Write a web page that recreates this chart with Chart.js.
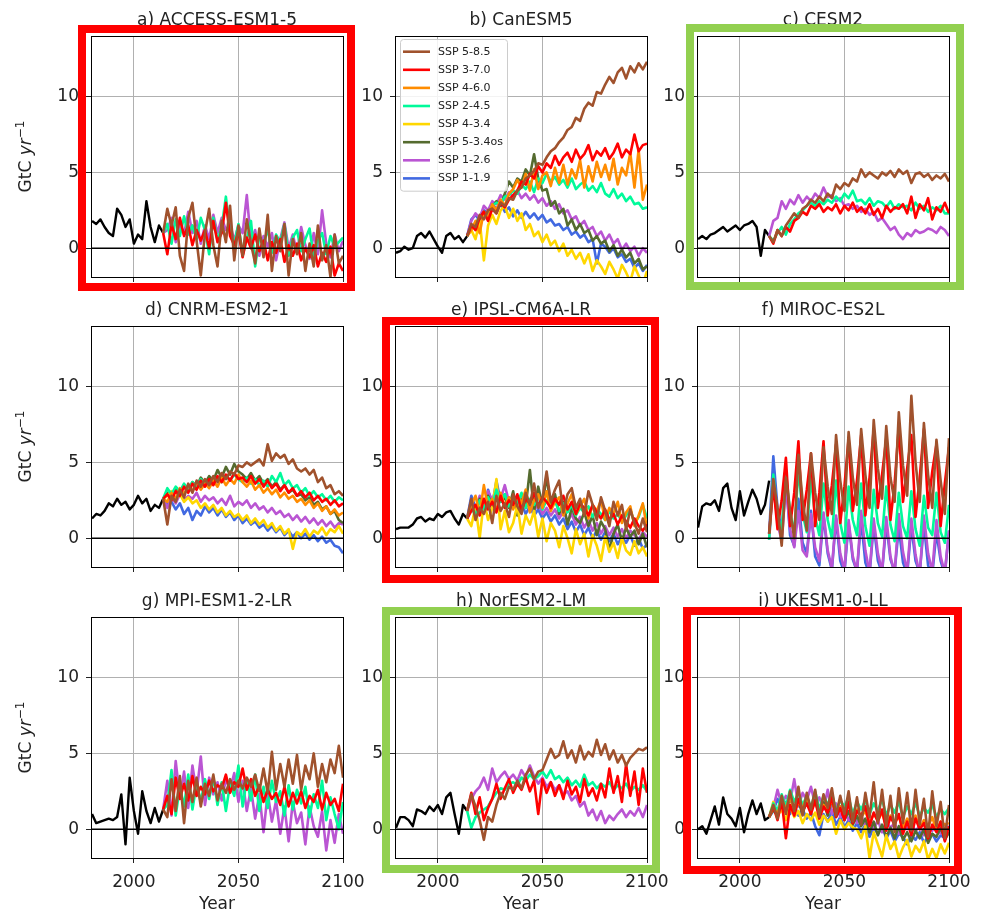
<!DOCTYPE html>
<html>
<head>
<meta charset="utf-8">
<script src="https://cdn.jsdelivr.net/npm/chart.js@4.4.1/dist/chart.umd.min.js"></script>
<style>
  body { margin: 0; background: #fff; overflow: hidden; }
  #fig { position: relative; width: 986px; height: 912px; }
  #fig canvas { position: absolute; }
  .frame { position: absolute; box-sizing: border-box; border: 8px solid; pointer-events: none; }
</style>
</head>
<body>
<div id="fig"></div>
<script>
// Annual net land carbon flux per model, sampled every other year
const histYears = [1980, 1982, 1984, 1986, 1988, 1990, 1992, 1994, 1996, 1998, 2000, 2002, 2004, 2006, 2008, 2010, 2012, 2014];
const sspYears = [
  2014, 2016, 2018, 2020, 2022, 2024, 2026, 2028, 2030, 2032, 2034,
  2036, 2038, 2040, 2042, 2044, 2046, 2048, 2050, 2052, 2054, 2056,
  2058, 2060, 2062, 2064, 2066, 2068, 2070, 2072, 2074, 2076, 2078,
  2080, 2082, 2084, 2086, 2088, 2090, 2092, 2094, 2096, 2098, 2100
];
const xTicks = [2000, 2050, 2100];
const yTicks = [0, 5, 10];
const xRange = [1979.5, 2100];
const yRange = [-1.9, 14];

const scenarioLabels = ['SSP 5-8.5', 'SSP 3-7.0', 'SSP 4-6.0', 'SSP 2-4.5', 'SSP 4-3.4', 'SSP 5-3.4os', 'SSP 1-2.6', 'SSP 1-1.9'];
const scenarioColors = ['#a0522d', '#ff0000', '#ff8c00', '#00fa9a', '#ffd700', '#556b2f', '#ba55d3', '#4169e1'];

const modelNames = [
  'a) ACCESS-ESM1-5', 'b) CanESM5', 'c) CESM2',
  'd) CNRM-ESM2-1', 'e) IPSL-CM6A-LR', 'f) MIROC-ES2L',
  'g) MPI-ESM1-2-LR', 'h) NorESM2-LM', 'i) UKESM1-0-LL'
];

// a) ACCESS-ESM1-5
const accessHist = [1.8, 1.6, 1.9, 1.4, 1.0, 0.8, 2.6, 2.2, 1.4, 1.9, 0.3, 0.9, 0.6, 3.1, 1.4, 0.4, 1.5, 1.0];
const access585 = [1.0, 2.6, 1.5, 2.7, -0.5, -1.5, 2.0, 3.0, 0.5, -1.8, 1.0, 2.6, 0.2, -1.2, 1.8, 0.4, 2.8, -0.8, 1.5, -0.5, 1.9, 0.3, -1.0, 1.3, -0.6, 2.2, -1.5, 0.8, -0.2, 1.6, -1.8, 0.6, -0.4, 1.0, -1.5, 0.3, -1.2, 1.5, -0.8, 0.2, -1.9, 0.9, -1.0, -0.5];
const access370 = [1.0, -0.4, 1.6, 0.6, 2.0, 0.8, 1.5, 0.2, 1.2, 0.5, 1.2, 0.0, 1.8, 0.4, 1.0, 3.0, 0.8, 0.2, 1.1, -0.6, 0.7, 0.0, 0.9, -0.2, 0.5, -0.8, 0.4, -0.3, 0.6, -0.9, 0.2, -0.5, 0.3, -0.8, 0.0, -0.6, 0.2, -1.2, -0.3, -0.9, 0.1, -1.8, -1.0, -1.5];
const access245 = [1.0, 1.6, 0.3, 1.9, 0.8, 2.1, 0.9, 1.5, 0.6, 2.0, 1.2, -0.4, 2.0, 0.5, 1.4, 3.4, 1.0, 0.3, 1.6, -0.5, 0.6, 1.8, -1.2, 0.8, 0.2, 1.3, -0.3, 0.9, 0.4, 1.6, -0.5, 0.7, 1.2, -0.2, 0.6, 1.3, -0.6, 0.5, 1.0, -0.4, 0.8, 0.1, 0.4, 0.7];
const access126 = [1.0, 1.2, 2.0, 0.4, 1.6, 0.9, 2.4, 1.0, 1.8, 0.3, 1.5, 0.6, 2.2, 1.0, 2.0, 1.2, 1.6, 0.5, 1.5, 1.0, 3.5, 0.4, 1.2, -0.5, 0.8, 0.1, 1.0, -0.8, 0.6, 1.7, 0.0, 0.9, -0.3, 1.4, 0.2, -0.7, 1.0, -0.4, 2.5, 0.3, -0.6, 0.9, -0.2, 0.5];

// b) CanESM5
const canHist = [-0.3, -0.2, 0.1, -0.1, 0.0, 0.8, 1.0, 0.7, 1.1, 0.6, 0.1, -0.3, 0.8, 1.0, 0.6, 0.8, 0.4, 0.8];
const can585 = [0.8, 1.6, 1.4, 2.2, 1.9, 2.5, 2.6, 2.3, 3.0, 2.8, 3.3, 3.2, 3.8, 4.0, 4.6, 4.8, 5.1, 5.6, 5.5, 6.0, 6.4, 6.6, 7.0, 7.3, 7.8, 8.0, 8.6, 8.4, 9.2, 9.6, 9.4, 10.3, 10.2, 10.8, 11.3, 10.9, 11.6, 11.9, 11.2, 12.0, 11.6, 12.2, 11.8, 12.3];
const can370 = [0.8, 1.5, 1.2, 2.0, 2.4, 1.8, 2.6, 2.3, 3.0, 2.7, 3.2, 3.5, 3.8, 4.4, 4.2, 4.9, 4.6, 5.4, 5.0, 5.6, 5.3, 6.1, 5.5, 6.0, 6.3, 5.7, 6.5, 5.9, 6.2, 6.8, 5.8, 6.4, 6.1, 6.6, 5.9, 6.3, 6.9, 6.0, 6.5, 6.2, 7.5, 6.4, 6.8, 6.9];
const can460 = [0.8, 1.2, 1.8, 1.0, 2.4, 2.0, 2.9, 2.5, 3.2, 2.8, 3.6, 3.9, 4.5, 4.0, 4.9, 3.8, 5.2, 3.9, 4.8, 5.0, 4.1, 5.3, 4.3, 5.5, 4.2, 5.2, 4.6, 5.8, 4.0, 5.4, 4.4, 5.7, 4.7, 5.5, 4.5, 5.9, 4.2, 5.3, 4.8, 6.3, 4.0, 6.5, 3.2, 4.2];
const can245 = [0.8, 1.3, 1.7, 2.0, 2.3, 2.2, 2.8, 3.0, 2.9, 3.4, 3.5, 3.8, 3.6, 4.2, 3.9, 4.4, 3.7, 4.6, 4.3, 4.9, 4.4, 4.7, 4.2, 4.5, 4.0, 4.6, 3.9, 4.2, 4.4, 3.8, 4.1, 3.7, 4.3, 3.6, 3.4, 3.9, 3.3, 3.6, 3.1, 3.4, 2.9, 3.0, 2.6, 2.7];
const can434 = [0.8, 1.2, 0.6, 1.8, -0.8, 1.5, 2.2, 1.6, 2.5, 2.8, 2.0, 2.6, 1.8, 2.3, 1.2, 1.6, 0.8, 1.1, 0.4, 0.9, 0.2, 0.5, -0.2, 0.3, -0.5, -0.1, -0.7, -0.3, -1.0, -0.4, -1.5, -0.8, -1.2, -1.7, -0.9, -1.4, -2.0, -1.1, -1.6, -2.2, -1.2, -1.8, -2.4, -1.5];
const can534 = [0.8, 1.4, 1.6, 2.0, 2.4, 2.1, 2.7, 3.1, 2.8, 3.6, 4.4, 4.0, 4.6, 4.4, 5.2, 4.8, 6.2, 4.6, 3.8, 3.9, 2.8, 3.1, 2.3, 2.6, 1.5, 1.9, 1.2, 1.6, 1.0, 1.2, 0.5, 0.8, 0.3, 0.5, -0.2, 0.2, -0.5, -0.1, -0.6, -0.3, -1.0, -0.7, -1.4, -1.2];
const can126 = [0.8, 1.8, 2.3, 2.0, 2.8, 2.5, 3.1, 2.9, 3.5, 3.2, 3.7, 3.4, 3.8, 3.3, 3.6, 3.2, 3.5, 3.0, 3.3, 2.8, 3.1, 2.6, 2.9, 2.3, 2.5, 1.9, 2.1, 1.5, 1.8, 1.2, 1.4, 0.8, 1.1, 0.5, 0.9, 0.3, 0.6, -0.1, 0.3, -0.2, 0.1, -0.5, 0.0, -0.3];
const can119 = [0.8, 1.9, 2.2, 1.8, 2.5, 2.3, 2.9, 2.6, 3.0, 2.4, 2.7, 2.1, 2.5, 2.0, 2.4, 2.0, 2.3, 1.9, 2.2, 1.7, 1.9, 1.5, 1.6, 1.2, 1.4, 0.9, 1.1, 0.7, 0.9, 0.4, 0.6, -1.0, 0.3, 0.1, -0.3, 0.0, -0.6, -0.4, -0.9, -0.7, -1.3, -1.0, -1.5, -1.1];

// c) CESM2
const cesmHist = [0.6, 0.8, 0.6, 0.9, 1.0, 1.2, 1.4, 1.1, 1.3, 1.5, 1.2, 1.5, 1.6, 1.8, 1.4, -0.5, 1.2, 0.8];
const cesm585 = [0.8, 0.4, 1.2, 0.8, 1.5, 1.9, 2.3, 2.0, 2.6, 2.8, 3.2, 3.0, 3.4, 3.1, 3.6, 3.3, 4.2, 3.9, 4.3, 4.1, 4.6, 4.4, 5.2, 4.7, 5.0, 4.8, 4.6, 5.0, 4.8, 5.1, 4.7, 5.2, 4.9, 5.1, 4.3, 4.9, 5.0, 4.7, 4.9, 4.5, 4.8, 4.6, 4.9, 4.4];
const cesm370 = [0.8, 0.3, 1.2, 0.8, 1.4, 1.1, 1.8, 2.0, 2.4, 2.2, 2.8, 2.6, 2.9, 2.4, 2.7, 2.5, 2.9, 2.3, 2.8, 2.5, 3.0, 2.4, 2.7, 2.3, 2.9, 2.2, 2.6, 2.0, 2.8, 2.4, 2.7, 2.6, 2.9, 2.3, 3.4, 2.0, 2.9, 2.5, 3.3, 1.9, 2.7, 2.4, 3.0, 2.3];
const cesm245 = [0.8, 0.5, 1.0, 1.4, 0.9, 1.6, 1.9, 2.3, 2.5, 2.8, 3.0, 2.8, 3.1, 2.9, 3.2, 3.0, 3.4, 3.1, 3.6, 3.3, 3.8, 3.1, 3.2, 2.9, 3.3, 2.8, 3.1, 3.0, 2.7, 3.1, 2.6, 2.9, 2.7, 2.8, 2.5, 3.0, 2.6, 2.8, 2.4, 2.7, 2.5, 2.8, 2.3, 2.3];
const cesm126 = [0.8, 1.8, 2.0, 3.1, 2.6, 3.2, 2.9, 3.5, 3.0, 3.4, 3.1, 3.6, 3.3, 4.0, 3.4, 3.5, 3.1, 3.3, 2.8, 2.9, 2.6, 2.8, 2.4, 2.6, 2.2, 2.4, 1.8, 2.0, 1.6, 1.2, 1.4, 0.9, 0.6, 1.0, 0.8, 1.2, 1.0, 1.1, 1.3, 1.2, 1.0, 1.4, 1.2, 0.8];

// d) CNRM-ESM2-1
const cnrmHist = [1.3, 1.6, 1.5, 1.8, 2.3, 2.1, 2.6, 2.2, 2.4, 1.9, 2.2, 2.8, 2.3, 2.6, 1.8, 2.2, 2.0, 2.6];
const cnrm585 = [2.6, 0.9, 2.8, 2.4, 3.2, 2.7, 3.6, 3.0, 3.8, 3.4, 3.9, 3.5, 4.1, 3.7, 4.3, 3.9, 4.4, 4.2, 4.8, 4.7, 5.0, 4.8, 5.0, 5.2, 4.8, 6.2, 5.1, 5.6, 5.3, 5.5, 4.9, 5.2, 4.6, 4.4, 4.6, 4.2, 4.5, 3.7, 4.0, 3.3, 3.5, 2.9, 3.1, 2.8];
const cnrm370 = [2.6, 2.9, 2.5, 3.1, 2.8, 3.4, 3.0, 3.6, 3.2, 3.8, 3.4, 3.9, 3.5, 4.1, 3.7, 4.2, 3.8, 4.3, 3.9, 4.0, 3.7, 4.1, 3.6, 3.9, 3.4, 3.8, 3.3, 3.6, 3.1, 3.5, 3.0, 3.3, 2.8, 3.1, 2.7, 3.0, 2.5, 2.8, 2.4, 2.6, 2.2, 2.5, 2.1, 2.3];
const cnrm460 = [2.6, 2.4, 3.0, 2.6, 3.3, 2.9, 3.5, 3.1, 3.7, 3.2, 3.6, 3.3, 3.8, 3.4, 4.0, 3.5, 3.9, 3.6, 4.2, 3.7, 3.4, 3.8, 3.2, 3.5, 3.0, 3.3, 2.9, 3.2, 2.7, 3.0, 2.6, 2.8, 2.4, 2.6, 2.2, 2.5, 2.0, 2.3, 1.8, 2.1, 1.6, 1.9, 1.5, 1.7];
const cnrm245 = [2.6, 3.3, 2.9, 3.4, 3.1, 3.6, 3.2, 3.7, 3.4, 3.9, 3.5, 3.8, 3.6, 4.0, 3.7, 4.1, 3.8, 4.2, 3.9, 3.7, 4.0, 3.6, 3.9, 3.5, 3.8, 3.4, 4.1, 3.7, 4.3, 3.5, 3.8, 3.3, 3.5, 3.0, 3.3, 2.8, 3.1, 2.7, 2.9, 2.5, 2.8, 2.4, 2.7, 2.5];
const cnrm434 = [2.6, 2.8, 3.1, 2.6, 2.9, 2.4, 2.7, 2.3, 2.5, 2.0, 2.3, 1.9, 2.2, 1.7, 2.0, 1.5, 1.8, 1.4, 1.6, 1.2, 1.5, 1.0, 1.3, 0.9, 1.2, 0.7, 1.0, 0.5, 0.8, 0.3, 0.6, -0.7, 0.4, 0.2, 0.6, 0.1, 0.5, 0.3, 0.7, 0.2, 0.6, 0.4, 0.8, 0.3];
const cnrm534 = [2.6, 3.0, 2.7, 3.3, 3.0, 3.5, 3.2, 3.7, 3.4, 4.0, 3.6, 4.1, 3.8, 4.5, 4.0, 4.7, 4.2, 4.9, 4.4, 4.2, 3.9, 4.3, 3.8, 4.1, 3.6, 3.9, 3.4, 3.7, 3.2, 3.5, 3.0, 3.2, 2.8, 2.9, 2.5, 2.7, 2.2, 2.4, 1.9, 2.1, 1.6, 1.8, 1.2, 1.0];
const cnrm126 = [2.6, 2.0, 2.7, 2.3, 2.9, 2.5, 2.8, 2.6, 3.0, 2.4, 2.8, 2.5, 2.7, 2.3, 2.6, 2.2, 2.8, 2.1, 2.4, 2.2, 2.5, 2.0, 2.3, 1.9, 2.1, 1.7, 2.0, 1.6, 1.8, 1.4, 1.6, 1.2, 1.5, 1.1, 1.4, 1.0, 1.3, 0.9, 1.2, 0.8, 1.1, 0.7, 1.0, 0.9];
const cnrm119 = [2.6, 2.2, 2.4, 1.9, 2.3, 1.6, 2.0, 1.2, 1.8, 1.5, 2.1, 1.7, 2.0, 1.5, 1.9, 1.4, 1.7, 1.2, 1.5, 1.0, 1.3, 0.9, 1.1, 0.7, 0.9, 0.5, 0.8, 0.4, 0.7, 0.2, 0.5, 0.1, 0.4, 0.0, 0.3, -0.1, 0.2, -0.2, 0.1, -0.3, -0.1, -0.5, -0.6, -1.0];

// e) IPSL-CM6A-LR
const ipslHist = [0.6, 0.7, 0.7, 0.7, 0.9, 1.3, 1.4, 1.1, 1.3, 1.2, 1.6, 1.4, 1.7, 1.8, 1.3, 0.9, 1.6, 1.3];
const ipsl585 = [1.3, 2.6, 1.2, 2.0, 1.6, 2.4, 1.0, 2.8, 1.8, 2.3, 1.4, 2.9, 2.1, 1.6, 3.0, 2.2, 3.6, 2.0, 2.6, 4.4, 2.4, 3.2, 3.8, 1.7, 2.9, 3.3, 2.0, 2.6, 1.5, 3.1, 2.2, 1.2, 2.7, 1.8, 0.8, 2.4, 1.5, 2.2, 0.6, 1.9, 1.0, 0.3, 1.3, 0.4];
const ipsl370 = [1.3, 1.8, 2.2, 1.5, 2.6, 1.9, 2.4, 1.7, 2.8, 2.0, 2.5, 2.2, 2.9, 1.8, 2.6, 2.3, 3.0, 2.1, 2.7, 2.4, 2.0, 2.6, 2.2, 2.8, 1.9, 2.4, 1.6, 2.3, 2.0, 1.5, 2.2, 1.7, 1.3, 1.9, 1.2, 1.6, 0.9, 1.5, 1.1, 0.7, 1.3, 0.8, 0.5, 0.9];
const ipsl460 = [1.3, 2.2, 2.8, 1.6, 3.5, 2.0, 2.6, 1.8, 3.0, 2.1, 2.7, 1.9, 2.8, 2.3, 3.2, 1.7, 2.5, 2.9, 2.0, 3.1, 1.8, 2.4, 2.7, 1.5, 2.3, 2.9, 1.6, 2.1, 2.6, 1.3, 2.2, 1.8, 2.5, 1.2, 2.0, 1.6, 2.4, 1.0, 1.7, 2.1, 0.8, 1.5, 2.3, 0.6];
const ipsl245 = [1.3, 2.0, 1.5, 2.5, 1.9, 2.7, 2.2, 3.2, 2.4, 2.9, 2.1, 2.7, 2.3, 3.0, 2.0, 2.6, 2.2, 2.8, 1.9, 2.5, 2.1, 2.4, 1.8, 2.3, 1.7, 2.2, 1.5, 2.0, 1.7, 2.1, 1.4, 1.9, 1.6, 1.2, 1.8, 1.3, 1.6, 1.1, 1.5, 1.9, 1.0, 1.4, 2.2, 1.3];
const ipsl434 = [1.3, 0.8, 2.1, 0.0, 2.5, 1.2, 2.0, 3.9, 0.6, 1.8, 0.4, 1.0, 2.2, 0.3, 1.5, 0.9, 1.8, 0.1, 1.3, -0.2, 1.0, 0.5, -0.6, 0.8, 0.0, -1.0, 0.6, -0.4, 0.3, -1.2, 0.2, -0.5, -1.5, 0.1, -0.9, -0.3, -1.3, 0.0, -0.8, -1.1, -0.2, -1.0, -0.6, -1.2];
const ipsl534 = [1.3, 2.1, 1.7, 2.6, 1.9, 2.8, 2.2, 3.0, 2.4, 2.7, 2.0, 3.1, 1.5, 2.6, 2.1, 4.5, 1.8, 3.4, 2.2, 4.1, 2.0, 2.9, 1.6, 2.4, 0.9, 2.0, 1.3, 1.0, 1.7, 0.8, 1.5, 0.2, 1.1, 0.6, -0.8, 0.3, 0.9, -0.2, 0.7, 0.1, 0.5, -0.4, 0.3, -0.6];
const ipsl126 = [1.3, 2.3, 1.9, 2.8, 2.2, 3.1, 2.5, 3.3, 2.6, 3.5, 2.4, 2.8, 2.1, 2.6, 2.0, 2.4, 1.8, 2.3, 1.6, 2.0, 1.5, 1.9, 1.3, 1.8, 1.1, 1.6, 0.9, 1.4, 0.7, 1.2, 0.5, 1.0, 0.3, 0.8, 0.2, 0.7, 0.1, 0.6, 0.0, 0.5, 0.2, -0.1, 0.4, 0.1];
const ipsl119 = [1.3, 2.8, 2.0, 2.6, 1.8, 3.2, 2.2, 3.8, 2.4, 2.9, 2.0, 2.5, 1.8, 2.3, 1.6, 2.1, 1.5, 1.9, 1.3, 1.7, 1.1, 1.5, 0.9, 1.3, 0.6, 1.1, 0.4, 0.9, 0.2, 0.7, 0.0, 0.5, -0.1, 0.4, -0.2, 0.3, -0.4, 0.1, -0.3, 0.2, -0.5, 0.0, -0.7, -0.4];

// f) MIROC-ES2L
const mirocHist = [0.7, 2.1, 2.3, 2.2, 2.5, 1.8, 3.3, 3.6, 2.0, 1.2, 3.1, 1.5, 2.4, 3.2, 2.6, 1.6, 2.2, 3.8];
const miroc585 = [0.3, 3.9, 2.0, -0.5, 4.0, 1.8, 0.0, 5.5, 2.5, 0.5, 5.6, 3.0, 1.2, 6.0, 3.4, 1.6, 6.8, 3.8, 1.8, 7.0, 4.0, 2.2, 7.2, 4.2, 2.0, 7.8, 4.6, 2.6, 7.4, 4.0, 2.4, 8.3, 4.8, 2.8, 9.4, 5.0, 2.4, 7.6, 4.2, 2.0, 6.5, 3.8, 1.6, 6.6];
const miroc370 = [0.3, 3.5, 0.6, 2.5, 5.3, 0.8, 3.0, 6.4, 1.2, 3.2, 5.6, 0.8, 3.0, 6.4, 1.5, 3.5, 6.2, 1.0, 3.4, 6.6, 1.8, 3.8, 6.8, 1.5, 4.0, 7.2, 2.0, 4.2, 6.6, 1.2, 3.6, 7.4, 2.4, 4.6, 6.8, 1.4, 4.0, 7.2, 2.0, 4.4, 6.2, 0.8, 3.6, 6.0];
const miroc245 = [-0.1, 4.2, 1.5, 0.5, 4.4, 1.8, 0.3, 4.6, 1.6, 0.4, 4.0, 1.4, 0.2, 3.6, 1.2, 0.0, 3.8, 1.0, -0.3, 3.4, 1.2, 0.2, 3.6, 0.8, -0.5, 3.2, 1.0, 0.1, 3.4, 0.9, -0.2, 3.0, 0.8, 0.0, 3.1, 0.6, -0.5, 2.8, 0.7, 0.2, 3.0, 0.4, -0.3, 2.2];
const miroc126 = [-0.1, 3.8, 1.0, -0.2, 3.5, 0.6, -0.6, 1.8, -0.8, -1.2, 1.6, -0.6, -1.5, 1.7, -0.8, -2.0, 1.5, -1.0, -2.1, 1.2, -1.2, -2.2, 1.8, -0.8, -2.3, 1.3, -1.0, -2.2, 1.4, -1.2, -2.3, 1.6, -0.9, -2.2, 1.3, -1.1, -2.4, 1.5, -1.0, -2.2, 1.2, -1.2, -2.3, 0.5];
const miroc119 = [0.3, 5.4, 2.0, 0.5, 4.0, 0.2, -0.5, 2.6, -0.3, -1.0, 1.8, -1.2, -1.8, 1.5, -1.0, -2.1, 1.3, -1.5, -2.3, 1.0, -1.4, -2.2, 1.2, -1.6, -2.4, 0.9, -1.5, -2.3, 1.0, -1.4, -2.2, 0.7, -1.6, -2.4, 0.8, -1.5, -2.3, 0.9, -1.8, -2.4, 0.4, -1.5, -2.4, 0.5];

// g) MPI-ESM1-2-LR
const mpiHist = [1.0, 0.4, 0.5, 0.6, 0.7, 0.6, 0.8, 2.3, -1.0, 3.4, 1.2, -0.3, 2.5, 1.2, 0.4, 1.4, 0.5, 1.3];
const mpi585 = [1.3, 0.8, 3.3, 1.2, 3.5, 0.4, 3.2, 1.8, 3.4, 1.5, 3.0, 2.2, 3.6, 1.9, 3.0, 2.4, 3.3, 2.6, 3.2, 2.7, 3.4, 2.8, 3.6, 2.5, 4.0, 2.4, 5.1, 2.6, 4.3, 2.8, 4.6, 3.0, 4.9, 2.6, 4.2, 3.3, 5.0, 2.8, 4.3, 3.1, 4.6, 3.7, 5.5, 3.4];
const mpi370 = [1.3, 2.2, 1.0, 3.4, 2.0, 3.0, 1.9, 3.5, 2.2, 2.8, 2.3, 3.2, 2.5, 2.9, 2.7, 3.6, 2.4, 3.1, 2.8, 4.0, 2.6, 3.3, 2.2, 2.9, 1.8, 2.6, 2.0, 2.4, 1.6, 2.8, 1.5, 2.4, 1.7, 2.5, 1.4, 2.2, 1.8, 2.6, 1.3, 2.4, 1.6, 2.0, 1.2, 3.0];
const mpi245 = [1.3, 1.6, 3.9, 0.9, 2.8, 1.5, 3.6, 1.3, 3.0, 1.8, 3.3, 2.0, 3.4, 1.6, 3.1, 1.2, 3.0, 2.2, 4.2, 1.5, 3.3, 1.9, 3.6, 1.2, 2.8, 1.4, 3.2, 1.8, 2.5, 0.9, 2.9, 1.3, 2.6, 1.7, 2.8, 0.8, 2.3, 1.4, 3.2, 0.6, 2.1, 1.0, 0.0, 1.8];
const mpi126 = [1.3, 3.2, 0.9, 4.5, 2.0, 3.8, 1.4, 4.2, 2.4, 4.8, 1.6, 3.4, 2.3, 3.1, 1.9, 3.3, 2.6, 3.7, 1.8, 3.2, 1.2, 2.7, 0.7, 2.3, -0.2, 2.4, 0.5, 1.9, -0.3, 1.5, -0.8, 1.8, 0.4, 1.1, -1.0, 1.5, 0.2, -0.5, 1.2, -1.4, 0.6, -0.9, 1.0, -0.3];

// h) NorESM2-LM
const norHist = [0.1, 0.8, 0.8, 0.6, 0.2, 1.3, 1.2, 1.0, 1.5, 1.2, 1.6, 1.0, 2.1, 2.4, 1.0, -0.3, 1.6, 1.2];
const nor585 = [1.2, 2.3, 1.5, 0.6, -0.7, 0.8, 0.5, 1.6, 2.4, 2.0, 2.8, 2.6, 3.2, 2.7, 3.6, 4.0, 3.3, 3.8, 3.9, 4.6, 5.3, 4.7, 4.9, 5.8, 4.7, 5.2, 4.4, 5.5, 4.6, 5.1, 4.8, 5.9, 4.9, 5.6, 4.6, 5.2, 4.4, 4.9, 4.2, 4.7, 5.0, 5.3, 5.2, 5.4];
const nor370 = [1.2, 2.4, 1.0, 2.1, 0.6, 1.4, 2.0, 3.0, 2.0, 2.7, 3.3, 2.4, 3.0, 2.6, 3.4, 2.5, 3.2, 1.0, 3.3, 2.4, 3.1, 2.2, 2.9, 2.0, 3.2, 2.3, 2.8, 1.8, 3.3, 2.2, 2.7, 1.9, 3.0, 2.1, 4.0, 2.4, 3.5, 1.8, 4.3, 2.2, 3.8, 1.6, 4.0, 2.4];
const nor245 = [1.2, 0.1, 0.8, 1.1, 1.3, 1.5, 2.0, 2.4, 2.7, 2.6, 3.0, 3.1, 2.9, 3.4, 3.2, 3.6, 3.3, 3.5, 3.8, 3.4, 3.9, 3.3, 3.5, 3.1, 3.4, 2.9, 3.2, 2.8, 3.6, 2.9, 3.1, 2.7, 3.0, 2.8, 3.1, 2.6, 2.9, 2.7, 3.0, 2.5, 2.8, 2.6, 2.9, 2.5];
const nor126 = [1.2, 2.0, 2.5, 2.8, 3.4, 2.6, 4.0, 3.1, 3.5, 3.8, 3.3, 3.6, 3.2, 3.9, 3.4, 4.2, 3.5, 3.0, 3.4, 2.8, 3.1, 2.6, 2.9, 2.3, 2.5, 1.9, 2.2, 1.5, 1.8, 0.9, 1.3, 0.6, 1.2, 0.4, 0.9, 0.6, 1.0, 1.3, 0.8, 1.2, 0.9, 1.4, 0.8, 1.6];

// i) UKESM1-0-LL
const ukHist = [0.0, 0.2, -0.3, 0.6, 1.5, 0.3, 2.1, 1.0, 0.7, 0.2, 1.4, -0.2, 1.0, 1.9, 1.0, 1.7, 0.6, 0.8];
const uk585 = [0.8, 1.6, 0.7, 2.2, 1.0, 2.5, 1.2, 2.8, 0.9, 2.4, 1.3, 2.6, 0.8, 2.3, 1.4, 2.7, 0.9, 2.2, 1.0, 2.5, 0.5, 2.1, 0.3, 2.4, 0.8, 3.1, 0.4, 2.6, 0.2, 2.2, -0.2, 2.7, 0.4, 2.4, -0.1, 2.6, 0.3, 2.0, -0.5, 2.5, 0.2, 1.8, -0.6, 1.6];
const uk370 = [0.8, 1.5, 0.6, 1.9, -0.6, 1.6, 0.9, 2.0, 1.2, 1.7, 1.0, 1.9, 0.7, 1.5, 1.1, 2.1, 0.8, 1.4, 0.6, 1.8, 0.4, 1.2, 0.9, 1.5, 0.2, 1.1, 0.5, 1.3, -0.1, 0.8, 0.3, 1.0, -0.3, 0.5, -0.4, 0.7, 0.0, 0.4, -0.6, 0.3, -0.2, 0.5, -0.8, 0.2];
const uk460 = [0.8, 1.4, 1.0, 2.0, 1.3, 2.2, 1.1, 1.8, 1.4, 2.1, 1.2, 1.8, 1.0, 1.6, 1.2, 2.0, 0.9, 1.5, 1.1, 1.7, 0.6, 1.3, 0.8, 1.2, 0.4, 1.0, 0.6, 1.1, 0.2, 0.9, 0.5, 0.8, 0.1, 0.7, 0.3, 0.9, 0.0, 0.6, 0.2, 0.8, -0.1, 0.5, 0.3, 0.4];
const uk245 = [0.8, 1.7, 1.2, 2.3, 1.5, 2.6, 1.8, 2.4, 1.6, 2.2, 1.4, 2.5, 1.3, 2.2, 1.6, 2.4, 1.2, 1.9, 1.5, 2.1, 1.0, 1.8, 1.3, 1.9, 1.0, 1.7, 1.2, 2.0, 0.9, 1.6, 1.1, 1.8, 0.8, 1.5, 1.0, 1.7, 0.9, 1.4, 1.1, 1.6, 0.8, 1.3, 1.0, 1.4];
const uk434 = [0.8, 1.8, 0.9, 1.3, 0.6, 1.5, 0.8, 1.2, 0.4, 1.0, 0.6, 1.1, 0.3, 0.9, 0.5, 0.8, -0.3, 0.6, 0.0, 0.4, 0.1, 0.0, -0.6, 0.2, -1.9, -0.2, -1.0, -1.8, -0.4, -1.3, -0.8, -1.9, -1.2, -0.7, -1.8, -1.1, -1.5, -0.8, -2.0, -1.3, -1.9, -1.0, -1.6, -0.9];
const uk534 = [0.8, 1.3, 0.9, 1.9, 1.1, 2.1, 1.3, 1.8, 1.0, 2.0, 1.4, 2.2, 1.1, 1.8, 0.9, 2.0, 0.8, 1.5, 0.6, 1.2, 0.3, 0.9, 0.2, 0.7, -0.2, 0.5, -0.4, 0.3, -0.5, 0.1, -0.6, 0.2, -0.7, -0.2, -0.8, -0.1, -0.6, 0.0, -0.9, -0.3, -0.5, 0.1, -0.7, -0.2];
const uk126 = [0.8, 1.4, 2.6, 1.6, 2.2, 1.8, 3.3, 1.5, 2.4, 1.9, 2.8, 1.6, 2.1, 1.3, 2.6, 1.0, 1.7, 0.8, 1.4, 0.6, 1.1, 0.4, 0.9, 0.2, 0.8, 0.0, 0.6, -0.2, 0.5, 0.1, 0.4, -0.3, 0.3, 0.0, 0.5, -0.2, 0.3, -0.4, 0.2, -0.1, 0.4, -0.3, 0.1, 0.2];
const uk119 = [0.8, 1.2, 2.0, 1.4, 1.8, 1.0, 1.6, 0.9, 1.3, 0.7, 1.1, 0.2, -0.4, 1.0, 0.5, 1.2, 0.3, 0.8, 0.1, 0.6, -0.1, 0.4, -0.2, 0.3, -0.5, 0.1, -0.3, 0.2, -0.6, -0.1, -0.8, -0.3, -0.5, -1.0, -0.4, -0.7, -0.2, -0.9, -0.5, -0.3, -0.8, -0.4, -0.6, -0.2];

// Scenario runs per model, in scenarioLabels order (null = not run)
const panelHist = [accessHist, canHist, cesmHist, cnrmHist, ipslHist, mirocHist, mpiHist, norHist, ukHist];
const panelRuns = [
  [access585, access370, null, access245, null, null, access126, null],
  [can585, can370, can460, can245, can434, can534, can126, can119],
  [cesm585, cesm370, null, cesm245, null, null, cesm126, null],
  [cnrm585, cnrm370, cnrm460, cnrm245, cnrm434, cnrm534, cnrm126, cnrm119],
  [ipsl585, ipsl370, ipsl460, ipsl245, ipsl434, ipsl534, ipsl126, ipsl119],
  [miroc585, miroc370, null, miroc245, null, null, miroc126, miroc119],
  [mpi585, mpi370, null, mpi245, null, null, mpi126, null],
  [nor585, nor370, null, nor245, null, null, nor126, null],
  [uk585, uk370, uk460, uk245, uk434, uk534, uk126, uk119]
];

// Panel grid
const plotLefts = [91, 395, 697];
const plotTops = [36, 326, 617];
const plotW = 252, plotH = 241;
const textColor = '#222';
const FONT = "'DejaVu Sans', sans-serif";

Chart.defaults.font.family = FONT;
Chart.defaults.color = textColor;

// coloured highlight boxes around some panels
const frames = [
  { x: 78, y: 25, w: 277, h: 266, color: '#ff0000' },
  { x: 686, y: 24, w: 278, h: 266, color: '#92d050' },
  { x: 382, y: 317, w: 277, h: 266, color: '#ff0000' },
  { x: 382, y: 607, w: 278, h: 266, color: '#92d050' },
  { x: 683, y: 607, w: 279, h: 267, color: '#ff0000' }
];

// closed black box around the plot area
const axesBox = {
  id: 'axesBox',
  afterDatasetsDraw(chart) {
    const {ctx, chartArea: a} = chart;
    ctx.save();
    ctx.strokeStyle = '#000';
    ctx.lineWidth = 1;
    ctx.strokeRect(Math.round(a.left) + 0.5, Math.round(a.top) + 0.5, Math.round(a.right - a.left), Math.round(a.bottom - a.top));
    ctx.restore();
  }
};

// boxed legend in the upper-left corner of the plot
const boxLegend = {
  id: 'boxLegend',
  afterDatasetsDraw(chart, args, opts) {
    if (!opts.show) return;
    const {ctx, chartArea} = chart;
    const items = chart.data.datasets.filter(d => d.inLegend);
    const x0 = chartArea.left + 5, y0 = chartArea.top + 3;
    const rowH = 18.1, w = 107, h = (items.length - 1) * rowH + 25;
    ctx.save();
    ctx.fillStyle = 'rgba(255,255,255,0.85)';
    ctx.strokeStyle = '#cccccc';
    ctx.lineWidth = 1;
    ctx.beginPath();
    ctx.roundRect(x0 + 0.5, y0 + 0.5, w, h, 3);
    ctx.fill();
    ctx.stroke();
    ctx.font = '11px ' + FONT;
    ctx.textBaseline = 'middle';
    items.forEach((d, i) => {
      const y = y0 + 12.7 + i * rowH;
      ctx.strokeStyle = d.borderColor;
      ctx.lineWidth = 2.6;
      ctx.beginPath();
      ctx.moveTo(x0 + 3, y);
      ctx.lineTo(x0 + 30, y);
      ctx.stroke();
      ctx.fillStyle = textColor;
      ctx.fillText(d.label, x0 + 38, y);
    });
    ctx.restore();
  }
};

// rotated "GtC yr^-1" label with italic units and superscript
const unitLabel = {
  id: 'unitLabel',
  afterDraw(chart, args, opts) {
    if (!opts.show) return;
    const {ctx, chartArea} = chart;
    const parts = [
      { text: 'GtC ', font: '17px ' + FONT, dy: 0 },
      { text: 'yr', font: 'italic 17px ' + FONT, dy: 0 },
      { text: '\u22121', font: '12px ' + FONT, dy: -6 }
    ];
    ctx.save();
    let total = 0;
    parts.forEach(p => { ctx.font = p.font; p.w = ctx.measureText(p.text).width; total += p.w; });
    ctx.translate(opts.x, (chartArea.top + chartArea.bottom) / 2);
    ctx.rotate(-Math.PI / 2);
    ctx.fillStyle = textColor;
    ctx.textBaseline = 'middle';
    let x = -total / 2;
    parts.forEach(p => {
      ctx.font = p.font;
      ctx.fillText(p.text, x, p.dy);
      x += p.w;
    });
    ctx.restore();
  }
};

const toPoints = (years, values) => years.map((x, i) => ({ x, y: values[i] }));

const fig = document.getElementById('fig');

modelNames.forEach((name, k) => {
  const col = k % 3, row = Math.floor(k / 3);
  const bottomRow = row === 2;
  const axisW = col === 0 ? 91 : 50;
  const titleH = 30;
  const xAxisH = bottomRow ? 60 : 14;
  const padRight = 30;

  const canvas = document.createElement('canvas');
  canvas.width = axisW + plotW + padRight;
  canvas.height = titleH + plotH + xAxisH;
  canvas.style.left = (plotLefts[col] - axisW) + 'px';
  canvas.style.top = (plotTops[row] - titleH) + 'px';
  fig.appendChild(canvas);

  const datasets = [{
    label: 'zero',
    data: toPoints(xRange, [0, 0]),
    borderColor: '#000',
    borderWidth: 1.4
  }];
  panelRuns[k].forEach((values, s) => {
    if (!values) return;
    datasets.push({
      label: scenarioLabels[s],
      data: toPoints(sspYears, values),
      borderColor: scenarioColors[s],
      borderWidth: 2.6,
      inLegend: true
    });
  });
  datasets.push({
    label: 'historical',
    data: toPoints(histYears, panelHist[k]),
    borderColor: '#000',
    borderWidth: 2.4
  });

  new Chart(canvas, {
    type: 'line',
    data: { datasets },
    plugins: [axesBox, boxLegend, unitLabel],
    options: {
      responsive: false,
      animation: false,
      events: [],
      layout: { padding: { left: 0, top: 0, right: padRight, bottom: 0 } },
      elements: {
        point: { radius: 0 },
        line: { tension: 0, borderJoinStyle: 'round', fill: false }
      },
      datasets: { line: { clip: 0 } },
      scales: {
        x: {
          type: 'linear',
          min: xRange[0],
          max: xRange[1],
          afterBuildTicks: s => { s.ticks = xTicks.map(v => ({ value: v })); },
          afterFit: s => { s.height = xAxisH; s.paddingLeft = 0; s.paddingRight = 0; },
          grid: { color: '#b0b0b0', lineWidth: 1, tickLength: 5, tickColor: '#222' },
          border: { display: true, color: '#000', width: 1 },
          ticks: {
            display: bottomRow,
            padding: 9,
            maxRotation: 0,
            font: { size: 17 },
            color: textColor,
            callback: v => String(v)
          },
          title: {
            display: bottomRow,
            text: 'Year',
            font: { size: 17 },
            color: textColor,
            padding: { top: 0, bottom: 3.5 }
          }
        },
        y: {
          type: 'linear',
          min: yRange[0],
          max: yRange[1],
          afterBuildTicks: s => { s.ticks = yTicks.map(v => ({ value: v })); },
          afterFit: s => { s.width = axisW; s.paddingTop = 0; s.paddingBottom = 0; },
          grid: { color: '#b0b0b0', lineWidth: 1, tickLength: 5, tickColor: '#222' },
          border: { display: true, color: '#000', width: 1 },
          ticks: {
            padding: 7,
            font: { size: 17 },
            color: textColor,
            callback: v => String(v)
          }
        }
      },
      plugins: {
        legend: { display: false },
        tooltip: { enabled: false },
        title: {
          display: true,
          text: name,
          fullSize: false,
          font: { size: 17, weight: 'normal' },
          color: textColor,
          padding: { top: 4, bottom: 5.6 }
        },
        boxLegend: { show: k === 1 },
        unitLabel: { show: col === 0, x: 27 }
      }
    }
  });
});

frames.forEach(f => {
  const d = document.createElement('div');
  d.className = 'frame';
  d.style.left = f.x + 'px';
  d.style.top = f.y + 'px';
  d.style.width = f.w + 'px';
  d.style.height = f.h + 'px';
  d.style.borderColor = f.color;
  fig.appendChild(d);
});
</script>
</body>
</html>
